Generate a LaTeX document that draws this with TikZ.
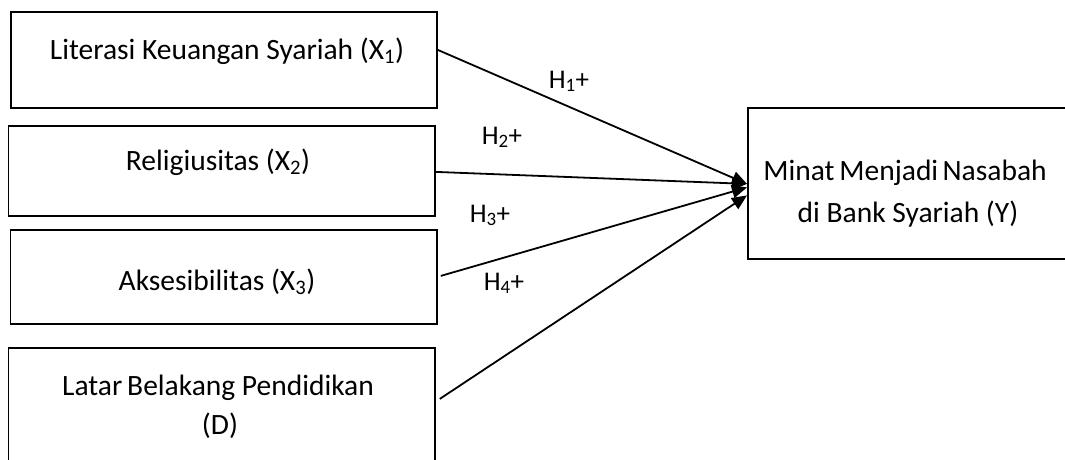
\documentclass[tikz,border=0pt]{standalone}
\usepackage{fontspec}
\setmainfont{Carlito}
\usetikzlibrary{arrows.meta}
\begin{document}
\begin{tikzpicture}[x=1pt,y=-1pt,
  box/.style={draw, line width=1.8pt, inner sep=0pt, anchor=north west},
  lbl/.style={font=\fontsize{29.5}{35}\selectfont, anchor=base, inner sep=0pt},
  hyp/.style={font=\fontsize{27}{32}\selectfont, anchor=base, inner sep=0pt},
  link/.style={line width=1.8pt, -{Triangle[length=15pt,width=13pt]}}]
\useasboundingbox (0,0) rectangle (1065,459);
\clip (0,0) rectangle (1065,459);
% boxes
\node[box, minimum width=426pt, minimum height=96pt] (b1) at (10,11) {};
\node[box, minimum width=426.5pt, minimum height=90pt] (b2) at (7.5,125) {};
\node[box, minimum width=426.5pt, minimum height=94pt] (b3) at (9.5,229) {};
\node[box, minimum width=426.5pt, minimum height=133pt] (b4) at (7.5,347) {};
\node[box, minimum width=343pt, minimum height=151pt] (y) at (747,107) {};
% texts
\node[lbl] (t1) at (227,59) {Literasi Keuangan Syariah (X\textsubscript{1})};
\node[lbl] (t2) at (218,170) {Religiusitas (X\textsubscript{2})};
\node[lbl] (t3) at (217,290) {Aksesibilitas (X\textsubscript{3})};
\node[lbl] (t4a) at (218,395) {Latar\,Belakang Pendidikan};
\node[lbl] (t4b) at (220,434) {(D)};
\node[lbl] (ty1) at (905,180) {Minat\,Menjadi\hspace{0.15em}Nasabah};
\node[lbl] (ty2) at (908,222) {di Bank Syariah (Y)};
% hypothesis labels
\node[hyp] (h1) at (569,88) {H\textsubscript{1}+};
\node[hyp] (h2) at (502,144) {H\textsubscript{2}+};
\node[hyp] (h3) at (490,222) {H\textsubscript{3}+};
\node[hyp] (h4) at (504,290) {H\textsubscript{4}+};
% connectors
\draw[link] ([yshift=10pt]b1.east) -- ([yshift=-0.5pt]y.west);
\draw[link] ([yshift=-1pt]b2.east) -- ([yshift=-0.5pt]y.west);
\draw[link] ([xshift=3pt,yshift=1pt]b3.east) -- ([yshift=-4pt]y.west);
\draw[link] ([xshift=4pt,yshift=15.5pt]b4.east) -- ([yshift=-12pt]y.west);
\end{tikzpicture}
\end{document}
